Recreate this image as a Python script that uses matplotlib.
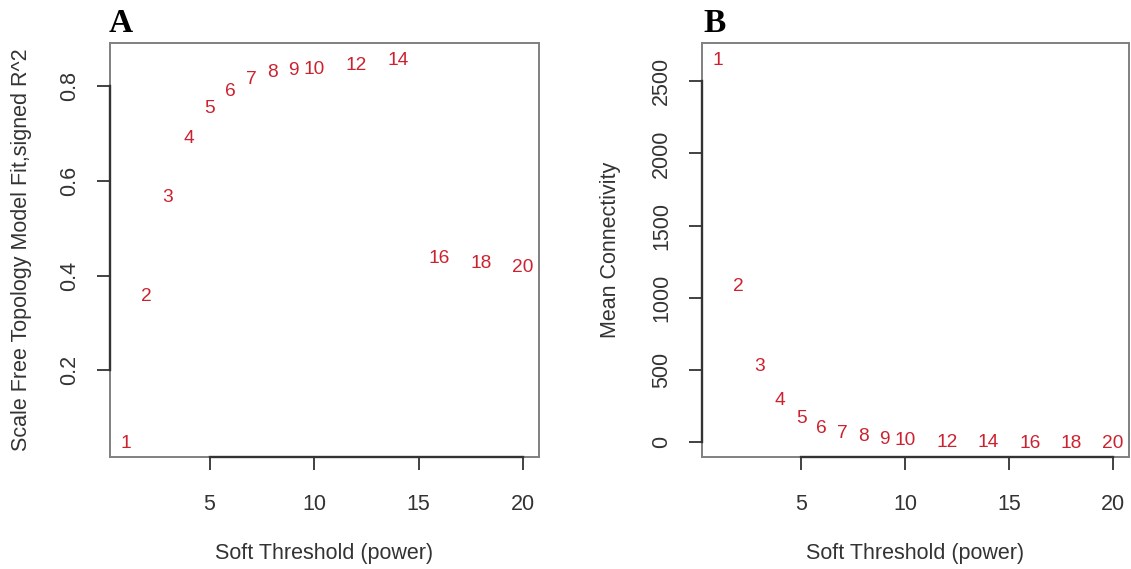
import matplotlib
matplotlib.use("Agg")
import matplotlib.pyplot as plt

powers = [1, 2, 3, 4, 5, 6, 7, 8, 9, 10, 12, 14, 16, 18, 20]
fit_r2 = [0.049, 0.360, 0.570, 0.693, 0.757, 0.793, 0.818, 0.833, 0.838,
          0.840, 0.849, 0.859, 0.441, 0.430, 0.422]
mean_conn = [2660, 1090, 535, 300, 173, 108, 69, 51, 32, 21, 9, 5, 3, 2, 1]

x_ticks = [5, 10, 15, 20]
a_yticks = [0.2, 0.4, 0.6, 0.8]
b_yticks = [0, 500, 1000, 1500, 2000, 2500]

xlabel = "Soft Threshold (power)"
a_ylabel = "Scale Free Topology Model Fit,signed R^2"
b_ylabel = "Mean Connectivity"
panel_titles = ["A", "B"]

plt.rcParams['font.family'] = ['Liberation Sans', 'DejaVu Sans']

W, H = 1131, 569
fig = plt.figure(figsize=(W / 100, H / 100), dpi=100)

RED = "#cc2230"
BOX = "#808080"
AX = "#333333"
TXT = "#333333"


def make_panel(rect, yvals, yticks, ylabel, ylab_x, title, title_x):
    ax = fig.add_axes(rect)
    ax.plot(powers, yvals, linestyle='none', marker=None)
    ax.margins(x=0.04, y=0.04)
    for p, v in zip(powers, yvals):
        ax.text(p, v, str(p), color=RED, fontsize=13.8, ha='center',
                va='center_baseline')
    ax.set_xticks(x_ticks)
    ax.set_yticks(yticks)
    ax.set_yticklabels([("%g" % t) for t in yticks], rotation=90, va='center')
    for s in ax.spines.values():
        s.set_color(BOX)
        s.set_linewidth(1.4)
    ax.tick_params(axis='both', colors=AX, labelcolor=TXT, labelsize=15.5,
                   length=9.5, width=1.3, direction='out')
    ax.tick_params(axis='x', pad=17)
    ax.tick_params(axis='y', pad=12)
    # R style axis lines between first and last tick
    ax.plot([x_ticks[0], x_ticks[-1]], [0, 0], color=AX, lw=1.7,
            transform=ax.get_xaxis_transform(), clip_on=False, zorder=3)
    ax.plot([0, 0], [yticks[0], yticks[-1]], color=AX, lw=1.7,
            transform=ax.get_yaxis_transform(), clip_on=False, zorder=3)
    ax.set_xlabel(xlabel, fontsize=15.5, color=TXT)
    ax.xaxis.set_label_coords(0.5, -0.232)
    ax.xaxis.label.set_va('center')
    ax.set_ylabel(ylabel, fontsize=15.5, color=TXT)
    ax.yaxis.set_label_coords(ylab_x, 0.5)
    ax.yaxis.label.set_va('center')
    fig.text(title_x, 1 - 32 / H, title, fontsize=24, fontweight='bold',
             family='Liberation Serif', va='baseline', ha='left', color='black')
    return ax


axA = make_panel([110 / W, 1 - 457 / H, 429 / W, 414 / H], fit_r2, a_yticks,
                 a_ylabel, -0.207, panel_titles[0], 109 / W)
axB = make_panel([702 / W, 1 - 457 / H, 427 / W, 414 / H], mean_conn, b_yticks,
                 b_ylabel, -0.214, panel_titles[1], 703 / W)

fig.savefig("out.png", dpi=100)
